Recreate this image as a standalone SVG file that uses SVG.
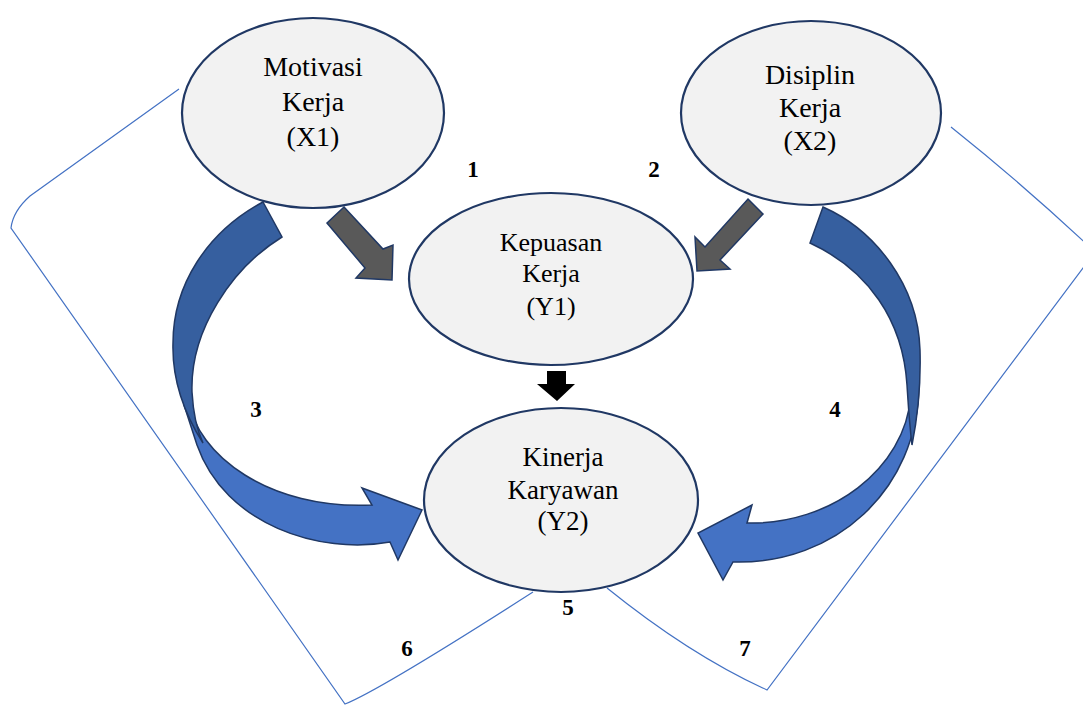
<svg xmlns="http://www.w3.org/2000/svg" width="1083" height="705" viewBox="0 0 1083 705">
<style>
.bracket{fill:none;stroke:#4472C4;stroke-width:1.2}
.node{fill:#F2F2F2;stroke:#203864;stroke-width:2.2}
.lbl{font-family:"Liberation Serif","Times New Roman",serif;fill:#000;text-anchor:middle}
.num{font-family:"Liberation Serif","Times New Roman",serif;font-weight:bold;font-size:23px;fill:#000;text-anchor:middle}
.gray{fill:#595959;stroke:#203864;stroke-width:1.5;stroke-linejoin:miter}
.dark{fill:#365F9F;stroke:#203864;stroke-width:1.5}
.light{fill:#4472C4;stroke:#203864;stroke-width:1.5}
</style>
<rect width="1083" height="705" fill="#fff"/>
<g id="connectors">
  <path class="bracket" d="M179,89 L30,196 Q13,211 11,228 L345,704 Q380,690 533,592"/>
  <path class="bracket" d="M951,127 Q1025,186 1095,252 L767,690 Q690,655 607,588"/>
  <polygon class="gray" points="344,207 383,249 393,245 392,280 356,278 365,268 327,223"/>
  <polygon class="gray" points="748,199 763,214 720,260 730,269 697,271 695,237 705,247"/>
  <polygon fill="#000" points="547,371 566,371 566,384 575,384 557,401 537,384 547,384"/>
  <path class="light" d="M189,400 C196,455 270,510 372,505 L362,488 L422,510 L398,560 L390,542 C320,555 225,525 197,445 L184,405 Z"/>
  <path class="dark" d="M263,202 L282,237 C232,268 190,330 192,392 C193,410 196,428 203,443 C182,410 172,378 173,343 C173,285 207,232 263,202 Z"/>
  <path class="light" d="M911,395 C905,470 830,525 747,523 L752,505 L698,533 L723,580 L733,562 C835,565 918,490 919,385 Z"/>
  <path class="dark" d="M823,207 C875,230 918,285 920,350 C921,385 918,415 912,445 C909,420 908,400 907,385 C903,320 868,270 810,243 Z"/>
</g>
<g id="motivasi">
  <ellipse class="node" cx="313" cy="113" rx="131" ry="95"/>
  <text class="lbl" font-size="28" x="313" y="76">Motivasi</text>
  <text class="lbl" font-size="28" x="313" y="111">Kerja</text>
  <text class="lbl" font-size="28" x="313" y="146">(X1)</text>
</g>
<g id="disiplin">
  <ellipse class="node" cx="811" cy="113" rx="130" ry="92"/>
  <text class="lbl" font-size="28" x="810" y="84">Disiplin</text>
  <text class="lbl" font-size="28" x="810" y="117">Kerja</text>
  <text class="lbl" font-size="28" x="810" y="150">(X2)</text>
</g>
<g id="kepuasan">
  <ellipse class="node" cx="551" cy="279" rx="142" ry="86"/>
  <text class="lbl" font-size="26" x="551" y="251">Kepuasan</text>
  <text class="lbl" font-size="26" x="551" y="282">Kerja</text>
  <text class="lbl" font-size="26" x="551" y="315">(Y1)</text>
</g>
<g id="kinerja">
  <ellipse class="node" cx="561" cy="500" rx="137" ry="92"/>
  <text class="lbl" font-size="27" x="563" y="466">Kinerja</text>
  <text class="lbl" font-size="27" x="563" y="499">Karyawan</text>
  <text class="lbl" font-size="27" x="563" y="530">(Y2)</text>
</g>
<g id="numbers">
  <text class="num" x="473" y="177">1</text>
  <text class="num" x="654" y="177">2</text>
  <text class="num" x="256" y="417">3</text>
  <text class="num" x="835" y="417">4</text>
  <text class="num" x="568" y="615">5</text>
  <text class="num" x="407" y="656">6</text>
  <text class="num" x="745" y="656">7</text>
</g>
</svg>
